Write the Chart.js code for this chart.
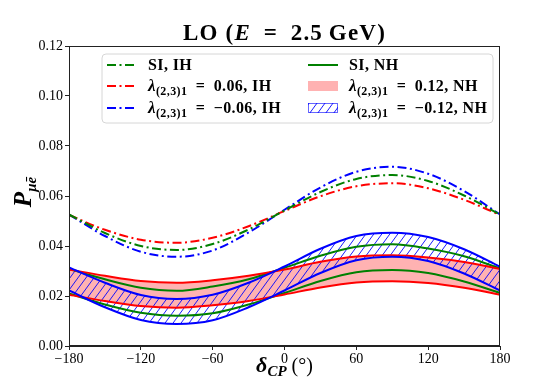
<!DOCTYPE html>
<html>
<head>
<meta charset="utf-8">
<script src="https://cdn.jsdelivr.net/npm/chart.js@4.4.1/dist/chart.umd.min.js"></script>
<style>
html, body {margin: 0; padding: 0; background: #fff;}
canvas {display: block;}
</style>
</head>
<body>
<canvas id="prob__chart" width="556" height="389"></canvas>
<script>
// delta_CP sample points (degrees)
const deltaCP = [-180, -150, -120, -90, -60, -30, 0, 30, 60, 90, 120, 150, 180]

// IH, dash-dot lines
const siIH      = [0.0526, 0.0452, 0.0400, 0.0384, 0.0408, 0.0466, 0.0542, 0.0616, 0.0668, 0.0684, 0.0660, 0.0602, 0.0526]
const lamP006IH = [0.0524, 0.0465, 0.0425, 0.0413, 0.0433, 0.0479, 0.0540, 0.0599, 0.0639, 0.0651, 0.0631, 0.0585, 0.0524]
const lamM006IH = [0.0526, 0.0440, 0.0377, 0.0357, 0.0382, 0.0454, 0.0545, 0.0634, 0.0697, 0.0717, 0.0689, 0.0620, 0.0526]

// NH bands (upper / lower edges)
const siNHUp     = [0.0308, 0.0267, 0.0233, 0.0221, 0.0238, 0.0267, 0.0313, 0.0361, 0.0397, 0.0407, 0.0390, 0.0359, 0.0310]
const siNHLo     = [0.0210, 0.0166, 0.0133, 0.0121, 0.0131, 0.0166, 0.0212, 0.0260, 0.0295, 0.0304, 0.0292, 0.0258, 0.0212]
const lamP012Up  = [0.0306, 0.0281, 0.0260, 0.0253, 0.0263, 0.0281, 0.0306, 0.0337, 0.0358, 0.0363, 0.0354, 0.0336, 0.0308]
const lamP012Lo  = [0.0205, 0.0180, 0.0160, 0.0153, 0.0163, 0.0180, 0.0206, 0.0234, 0.0254, 0.0259, 0.0252, 0.0233, 0.0205]
const lamM012Up  = [0.0314, 0.0253, 0.0204, 0.0188, 0.0205, 0.0253, 0.0318, 0.0389, 0.0440, 0.0453, 0.0436, 0.0387, 0.0317]
const lamM012Lo  = [0.0222, 0.0155, 0.0104, 0.0088, 0.0103, 0.0155, 0.0222, 0.0292, 0.0343, 0.0357, 0.0340, 0.0290, 0.0222]

const xTicks = [-180, -120, -60, 0, 60, 120, 180]
const yTicks = [0, 0.02, 0.04, 0.06, 0.08, 0.10, 0.12]

const serif = '"Liberation Serif", "DejaVu Serif", serif'
const GREEN = '#008000', RED = '#ff0000', BLUE = '#0000ff'
const PINK = 'rgba(255,0,0,0.3)'
const DASHDOT = [9, 3.5, 2, 3.5]

const makeHatch = () => {
  const pc = document.createElement('canvas')
  pc.width = 8; pc.height = 11
  const c = pc.getContext('2d')
  c.strokeStyle = '#0000ff'
  c.lineWidth = 0.9
  c.beginPath()
  c.moveTo(0, 11); c.lineTo(8, 0)
  c.moveTo(-8, 11); c.lineTo(0, 0)
  c.moveTo(8, 11); c.lineTo(16, 0)
  c.stroke()
  return document.getElementById('prob__chart').getContext('2d').createPattern(pc, 'repeat')
}
const hatch = makeHatch()

const toPts = (ys) => deltaCP.map((x, i) => ({x, y: ys[i]}))
const lineDs = (label, ys, color, extra) => ({
  label, data: toPts(ys), borderColor: color, borderWidth: 2, pointRadius: 0,
  fill: false, cubicInterpolationMode: 'monotone', ...extra
})

const datasets = [
  lineDs('λ=-0.12 NH up', lamM012Up, BLUE),
  lineDs('λ=-0.12 NH lo', lamM012Lo, BLUE, {fill: '-1', backgroundColor: hatch}),
  lineDs('λ=0.12 NH up', lamP012Up, RED),
  lineDs('λ=0.12 NH lo', lamP012Lo, RED, {fill: '-1', backgroundColor: PINK}),
  lineDs('SI NH up', siNHUp, GREEN),
  lineDs('SI NH lo', siNHLo, GREEN),
  lineDs('SI IH', siIH, GREEN, {borderDash: DASHDOT}),
  lineDs('λ=0.06 IH', lamP006IH, RED, {borderDash: DASHDOT}),
  lineDs('λ=-0.06 IH', lamM006IH, BLUE, {borderDash: DASHDOT})
]

const fmtNum = (v, d) => (v < 0 ? '\u2212' : '') + Math.abs(v).toFixed(d)

function drawRuns(ctx, runs, x, y, align, spacing) {
  ctx.letterSpacing = (spacing || 0) + 'px'
  let w = 0
  runs.forEach(r => { ctx.font = r.font; w += ctx.measureText(r.text).width })
  let cx = align === 'center' ? x - w / 2 : x
  runs.forEach(r => {
    ctx.font = r.font
    ctx.fillText(r.text, cx, y + (r.dy || 0))
    cx += ctx.measureText(r.text).width
  })
  ctx.letterSpacing = '0px'
}

const decorations = {
  id: 'decorations',
  afterDraw(chart) {
    const {ctx, chartArea: a} = chart
    ctx.save()
    // frame
    ctx.strokeStyle = '#222'
    ctx.lineWidth = 1
    ctx.strokeRect(Math.round(a.left) + 0.5, Math.round(a.top) + 0.5, Math.round(a.right - a.left) - 1, Math.round(a.bottom - a.top) - 1)

    ctx.fillStyle = '#000'
    ctx.textAlign = 'left'
    ctx.textBaseline = 'alphabetic'
    const cx = (a.left + a.right) / 2

    // title
    const tf = 'bold 23px ' + serif
    drawRuns(ctx, [
      {text: 'LO (', font: tf},
      {text: 'E', font: 'bold italic 23px ' + serif},
      {text: '\u2002=\u20022.5\u2009GeV)', font: tf}
    ], cx, 40, 'center', 1.2)

    // x label
    drawRuns(ctx, [
      {text: 'δ', font: 'bold italic 22px ' + serif},
      {text: 'CP', font: 'bold italic 15px ' + serif, dy: 4},
      {text: ' (°)', font: '20px ' + serif}
    ], cx, 372, 'center')

    // y label
    ctx.save()
    ctx.translate(31, 192)
    ctx.rotate(-Math.PI / 2)
    drawRuns(ctx, [
      {text: 'P', font: 'bold italic 25px ' + serif},
      {text: 'μē', font: 'bold italic 15px ' + serif, dy: 5}
    ], 0, 0, 'center')
    ctx.restore()

    // legend box
    const bx = 102, by = 54, bw = 391, bh = 69, r = 4
    ctx.beginPath()
    ctx.moveTo(bx + r, by)
    ctx.arcTo(bx + bw, by, bx + bw, by + bh, r)
    ctx.arcTo(bx + bw, by + bh, bx, by + bh, r)
    ctx.arcTo(bx, by + bh, bx, by, r)
    ctx.arcTo(bx, by, bx + bw, by, r)
    ctx.closePath()
    ctx.fillStyle = 'rgba(255,255,255,0.85)'
    ctx.fill()
    ctx.strokeStyle = '#d6d6d6'
    ctx.stroke()

    const rows = [65, 86, 108]
    const lf = 'bold 16px ' + serif
    const lam = (val, tail) => [
      {text: 'λ', font: 'bold italic 17px ' + serif},
      {text: '(2,3)1', font: 'bold 12px ' + serif, dy: 4},
      {text: '\u2002=\u2002' + val + ', ' + tail, font: lf}
    ]
    const items = [
      {col: 0, row: 0, kind: 'dd', color: GREEN, runs: [{text: 'SI, IH', font: lf}]},
      {col: 0, row: 1, kind: 'dd', color: RED, runs: lam('0.06', 'IH')},
      {col: 0, row: 2, kind: 'dd', color: BLUE, runs: lam('\u22120.06', 'IH')},
      {col: 1, row: 0, kind: 'solid', color: GREEN, runs: [{text: 'SI, NH', font: lf}]},
      {col: 1, row: 1, kind: 'fill', runs: lam('0.12', 'NH')},
      {col: 1, row: 2, kind: 'hatch', runs: lam('\u22120.12', 'NH')}
    ]
    const hx = [107, 308], tx = [148, 349]
    items.forEach(it => {
      const y = rows[it.row], x0 = hx[it.col]
      if (it.kind === 'dd' || it.kind === 'solid') {
        ctx.beginPath()
        ctx.setLineDash(it.kind === 'dd' ? DASHDOT : [])
        ctx.strokeStyle = it.color
        ctx.lineWidth = 2
        ctx.moveTo(x0, y)
        ctx.lineTo(x0 + 30, y)
        ctx.stroke()
        ctx.setLineDash([])
      } else if (it.kind === 'fill') {
        ctx.fillStyle = PINK
        ctx.fillRect(x0, y - 5, 30, 10)
      } else {
        ctx.fillStyle = hatch
        ctx.fillRect(x0, y - 5, 30, 10)
        ctx.strokeStyle = 'rgba(0,0,255,0.6)'
        ctx.lineWidth = 1
        ctx.strokeRect(x0 + 0.5, y - 4.5, 29, 9)
      }
      ctx.fillStyle = '#000'
      drawRuns(ctx, it.runs, tx[it.col], y + 5, 'left', 0.4)
    })
    ctx.restore()
  }
}

const tickFont = {family: serif, size: 14}

new Chart(document.getElementById('prob__chart'), {
  type: 'line',
  data: {datasets},
  options: {
    responsive: false,
    animation: false,
    layout: {padding: {left: 0, top: 46, right: 56, bottom: 0}},
    plugins: {
      legend: {display: false},
      title: {display: false},
      tooltip: {enabled: false},
      filler: {drawTime: 'beforeDatasetsDraw'}
    },
    scales: {
      x: {
        type: 'linear', min: -180, max: 180,
        afterBuildTicks: s => { s.ticks = xTicks.map(v => ({value: v})) },
        afterFit: s => { s.height = 43 },
        ticks: {callback: v => fmtNum(v, 0), font: tickFont, color: '#000', padding: 1, maxRotation: 0},
        grid: {drawOnChartArea: false, tickLength: 4, color: '#222'},
        border: {color: '#222'}
      },
      y: {
        min: 0, max: 0.12,
        afterBuildTicks: s => { s.ticks = yTicks.map(v => ({value: v})) },
        afterFit: s => { s.width = 69 },
        ticks: {callback: v => fmtNum(v, 2), font: tickFont, color: '#000', padding: 2},
        grid: {drawOnChartArea: false, tickLength: 4, color: '#222'},
        border: {color: '#222'}
      }
    }
  },
  plugins: [decorations]
})
</script>
</body>
</html>
